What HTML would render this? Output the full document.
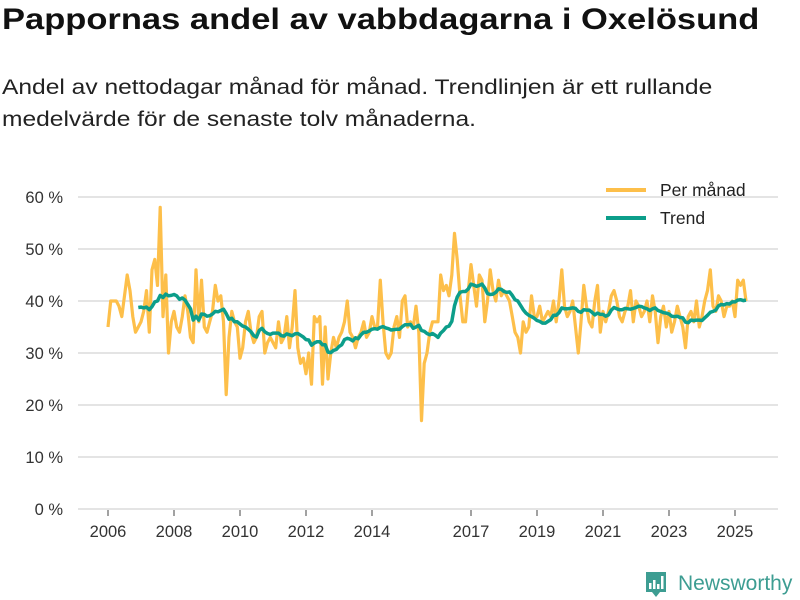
<!DOCTYPE html>
<html><head><meta charset="utf-8"><style>
body{margin:0;width:800px;height:600px;background:#fff;font-family:"Liberation Sans",sans-serif;overflow:hidden;position:relative}
h1{position:absolute;left:2px;top:3px;margin:0;font-size:30px;font-weight:bold;color:#111;transform-origin:0 0;transform:scaleX(1.15);white-space:nowrap}
.sub{position:absolute;left:2px;top:72px;margin:0;font-size:21px;line-height:32px;color:#222;transform-origin:0 0;transform:scaleX(1.17);white-space:nowrap}
svg{position:absolute;left:0;top:0}
</style></head><body>
<h1>Pappornas andel av vabbdagarna i Oxelösund</h1>
<p class="sub">Andel av nettodagar månad för månad. Trendlinjen är ett rullande<br>medelvärde för de senaste tolv månaderna.</p>
<svg id="c" width="800" height="600"></svg>
<script>
const startYear = 2006;
const monthly = [
35,40,40,40,39,37,41,45,42,37,34,35,
36,38,42,34,46,48,43,58,37,45,30,36,
38,35,34,37,41,38,33,32,46,36,44,35,
34,36,38,43,40,41,36,22,33,38,36,35,
29,31,36,38,34,32,33,37,38,30,32,33,
32,31,36,32,33,37,31,35,42,31,28,29,
26,30,24,37,36,37,24,35,25,30,33,31,
33,34,36,40,34,33,31,33,34,36,33,34,
37,35,35,44,36,30,29,30,35,37,33,40,
41,35,36,35,39,34,17,28,30,34,36,36,
36,45,42,43,41,45,53,48,41,36,36,42,
47,43,39,45,44,36,40,46,42,40,44,41,
42,41,40,37,34,33,30,36,34,35,41,37,
37,39,36,37,38,37,40,36,40,46,39,37,
38,40,35,30,36,43,39,36,35,40,43,34,
38,36,38,41,42,40,37,36,38,39,42,36,
40,39,37,38,40,36,41,38,32,37,39,35,
38,34,36,39,37,35,31,37,38,36,40,35,
37,40,42,46,39,38,41,40,37,39,39,40,
37,44,43,44,40];
const yTicks = [0,10,20,30,40,50,60];
const xTickYears = [2006,2008,2010,2012,2014,2017,2019,2021,2023,2025];
const legendLabels = ["Per månad","Trend"];

const NS="http://www.w3.org/2000/svg", svg=document.getElementById('c');
const x = t => 108 + (t - startYear) * 33.0;
const y = v => 509 - v * 5.2;
function el(tag, attrs, parent){const e=document.createElementNS(NS,tag);for(const k in attrs)e.setAttribute(k,attrs[k]);(parent||svg).appendChild(e);return e;}

yTicks.forEach(v=>{
  const g=el('line',{x1:78,x2:778,y1:y(v),y2:y(v),stroke:'#dcdcdc','stroke-width':1.5});
  
  
  const t=el('text',{x:63,y:y(v)+6,'text-anchor':'end','font-size':16.5,fill:'#333'});
  t.textContent=v+' %';
  
  
});
xTickYears.forEach(yr=>{
  const tk=el('line',{x1:x(yr),x2:x(yr),y1:510,y2:516,stroke:'#444','stroke-width':1});
  
  
  const t=el('text',{x:x(yr),y:537,'text-anchor':'middle','font-size':16.5,fill:'#333'});
  t.textContent=yr;
  
  
});

const mpts = monthly.map((v,i)=>x(startYear+i/12).toFixed(1)+','+y(v).toFixed(1)).join(' ');
const ml=el('polyline',{points:mpts,fill:'none',stroke:'#fdbf4a','stroke-width':3.2,'stroke-linejoin':'round'});



const tp=[];
for(let i=11;i<monthly.length;i++){let s=0;for(let j=i-11;j<=i;j++)s+=monthly[j];tp.push(x(startYear+i/12).toFixed(1)+','+y(s/12).toFixed(1));}
const tl=el('polyline',{points:tp.join(' '),fill:'none',stroke:'#0c9e8a','stroke-width':3.5,'stroke-linejoin':'round'});



[['#fdbf4a',190],['#0c9e8a',218]].forEach((c,i)=>{
  const l=el('line',{x1:606,x2:646,y1:c[1],y2:c[1],stroke:c[0],'stroke-width':4});
  
  
  const t=el('text',{x:660,y:c[1]+6,'font-size':17.5,fill:'#222'});
  t.textContent=legendLabels[i];
  
  
});
</script>
<svg width="800" height="600" style="pointer-events:none">
<path d="M646 572 h20 v20 h-6 l-4 5 l-4 -5 h-6 z" fill="#3d9d92"/>
<rect x="649" y="583" width="2.5" height="6" fill="#fff"/><rect x="653" y="580" width="2.5" height="9" fill="#fff"/><rect x="657" y="584" width="2.5" height="5" fill="#fff"/><rect x="661" y="576" width="2.5" height="13" fill="#fff"/>
<text x="678" y="590" font-size="21" fill="#3d9d92" font-family="Liberation Sans, sans-serif">Newsworthy</text>
</svg>
</body></html>
